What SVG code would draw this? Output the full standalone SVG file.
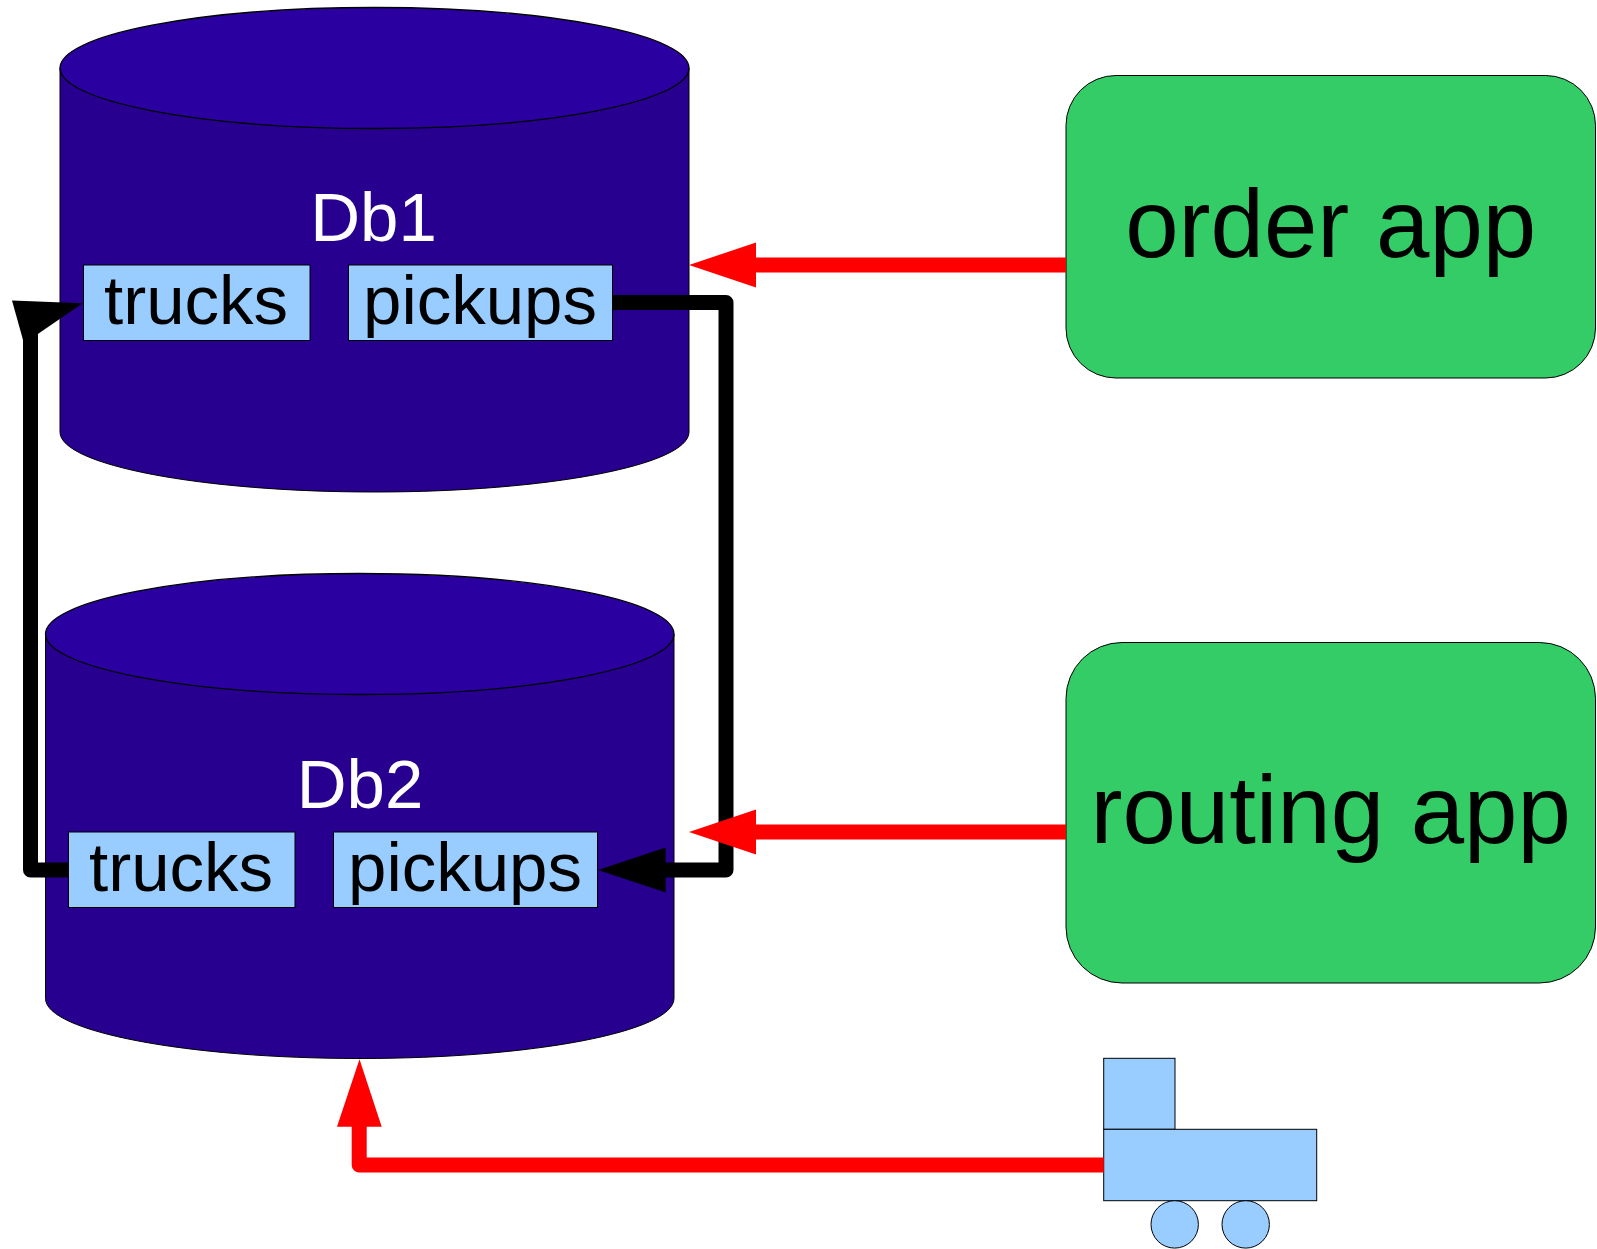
<svg xmlns="http://www.w3.org/2000/svg" width="1597" height="1249" viewBox="0 0 1597 1249">
<defs>
<style>
text{font-family:"Liberation Sans",Arial,sans-serif;text-anchor:middle}
.side{fill:#280090;stroke:#000;stroke-width:1}
.top{fill:#2b00a0;stroke:#000;stroke-width:1.300}
.tbl{fill:#99ccff;stroke:#000;stroke-width:1}
.tt{font-size:69px;fill:#000}
.dbt{font-size:69px;fill:#fff}
.app{fill:#33cc66;stroke:#000;stroke-width:1}
.at{font-size:96px;fill:#000}
.r{fill:none;stroke:#ff0000;stroke-width:15;stroke-linejoin:round}
.b{fill:none;stroke:#000;stroke-width:15;stroke-linejoin:round}
.rh{fill:#ff0000}
.bh{fill:#000}
</style>
</defs>
<rect width="1597" height="1249" fill="#fff"/>
<g id="db1">
<path class="side" d="M60 68V432C60 465 201 492 374.500 492S689 465 689 432V68Z"/>
<ellipse class="top" cx="374.500" cy="68" rx="314.500" ry="60.500"/>
<text class="dbt" x="373.500" y="240.500">Db1</text>
<rect class="tbl" x="83.500" y="265" width="226.500" height="75.500"/>
<text class="tt" x="196" y="323.500">trucks</text>
<rect class="tbl" x="348.500" y="265" width="264" height="75.500"/>
<text class="tt" x="480" y="323.500">pickups</text>
</g>
<g id="db2">
<path class="side" d="M45.500 634V998.500C45.500 1031.500 186.500 1058.500 360 1058.500S674 1031.500 674 998.500V634Z"/>
<ellipse class="top" cx="359.750" cy="634" rx="314.250" ry="60.500"/>
<text class="dbt" x="360" y="807.500">Db2</text>
<rect class="tbl" x="68.500" y="832" width="226.500" height="75.500"/>
<text class="tt" x="181" y="890.500">trucks</text>
<rect class="tbl" x="333.500" y="832" width="264" height="75.500"/>
<text class="tt" x="465" y="890.500">pickups</text>
</g>
<g id="order-app">
<rect class="app" x="1066" y="75.500" width="529.500" height="302.500" rx="50" ry="50"/>
<text class="at" x="1330.700" y="256.500">order app</text>
</g>
<g id="routing-app">
<rect class="app" x="1066" y="642.500" width="529.500" height="340.500" rx="56" ry="56"/>
<text class="at" x="1330.700" y="843">routing app</text>
</g>
<g id="truck">
<rect class="tbl" x="1103.700" y="1058.300" width="71.300" height="71"/>
<rect class="tbl" x="1103.700" y="1129.300" width="213" height="71.400"/>
<circle class="tbl" cx="1174.700" cy="1224.400" r="23.700"/>
<circle class="tbl" cx="1245.700" cy="1224.400" r="23.700"/>
</g>
<g id="connectors">
<path class="r" d="M1066 265H750"/>
<polygon class="rh" points="689,265 756,242.500 756,287.500"/>
<path class="b" d="M612.500 302.500H726V870H660"/>
<polygon class="bh" points="598,870 665.700,847.500 665.700,892.500"/>
<path class="r" d="M1066 832H750"/>
<polygon class="rh" points="689,832 756,809.500 756,854.500"/>
<path class="b" d="M68.500 870H30.500V325"/>
<polygon class="bh" points="82.700,303.300 12,300.500 24,343.500"/>
<path class="r" d="M1103.700 1165H359.200V1120"/>
<polygon class="rh" points="359.500,1059.300 337,1126.700 381.700,1126.700"/>
</g>
</svg>
